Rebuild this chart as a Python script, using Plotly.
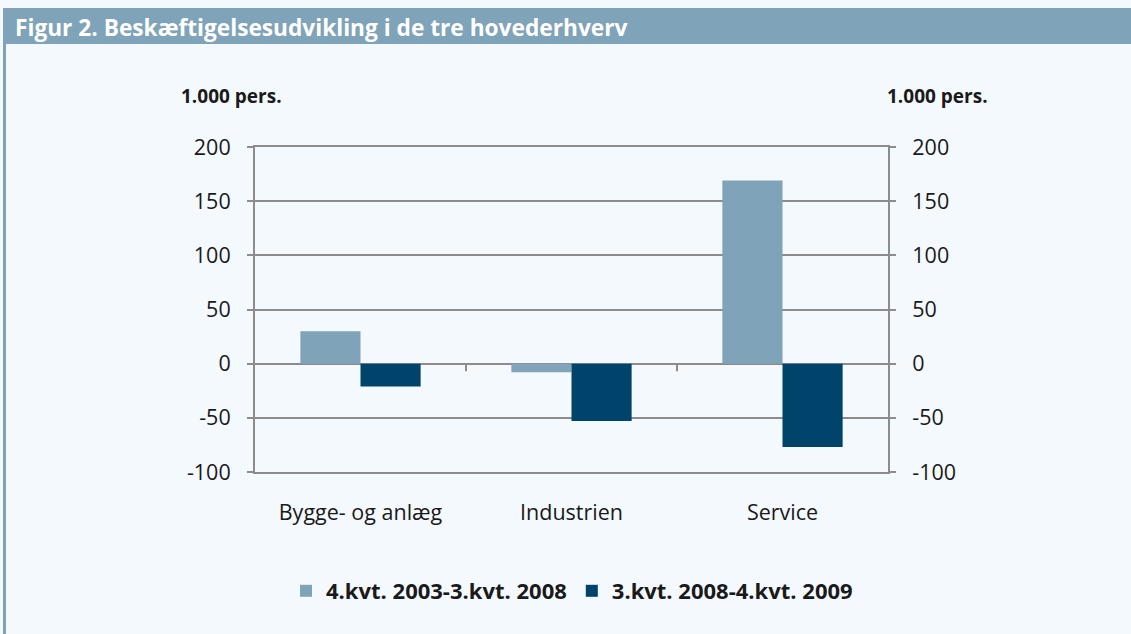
import plotly.graph_objects as go

categories = ["Bygge- og anlæg", "Industrien", "Service"]
series1_name = "4.kvt. 2003-3.kvt. 2008"
series1 = [30, -8, 169]
series2_name = "3.kvt. 2008-4.kvt. 2009"
series2 = [-21, -53, -77]
y_ticks = [200, 150, 100, 50, 0, -50, -100]
y_tick_labels = ["200", "150", "100", "50", "0", "-50", "-100"]

W, H = 1131, 634
L, R, T, B = 255, 888, 147, 472

def px(x):
    return (x - L) / (R - L)

def py(y):
    return (B - y) / (B - T)

bar_color1 = "#7fa3b8"
bar_color2 = "#00446b"
grid = "#8c8c8c"
bg = "#f4f9fd"
font_fam = "'Open Sans', sans-serif"

fig = go.Figure()
fig.add_trace(go.Bar(x=categories, y=series1, name=series1_name,
                     marker=dict(color=bar_color1, line=dict(width=0))))
fig.add_trace(go.Bar(x=categories, y=series2, name=series2_name,
                     marker=dict(color=bar_color2, line=dict(width=0))))
# invisible trace to carry right axis
fig.add_trace(go.Bar(x=categories, y=series1, yaxis="y2", showlegend=False,
                     opacity=0, hoverinfo="skip"))

axis_common = dict(range=[-100, 200], tickvals=y_ticks, ticktext=y_tick_labels,
                   ticks="outside", ticklen=6,
                   tickcolor=grid, tickwidth=1.5, showline=True, linecolor=grid,
                   linewidth=2, tickfont=dict(size=21.5, color="#1a1a1a", family=font_fam),
                   fixedrange=True, ticklabelstandoff=12)

fig.update_layout(
    width=W, height=H,
    margin=dict(l=L, r=W - R, t=T, b=H - B),
    paper_bgcolor=bg, plot_bgcolor=bg,
    barmode="group", bargap=0.43, bargroupgap=0,
    font=dict(family=font_fam, color="#1a1a1a"),
    xaxis=dict(showline=True, mirror=True, linecolor=grid, linewidth=1.5,
               showgrid=False, ticks="",
               tickfont=dict(size=21.5, color="#1a1a1a", family=font_fam),
               ticklabelstandoff=20, fixedrange=True),
    yaxis=dict(**axis_common, side="left", showgrid=True, gridcolor=grid, gridwidth=1.5,
               zeroline=True, zerolinecolor=grid, zerolinewidth=2),
    yaxis2=dict(**axis_common, side="right", overlaying="y", showgrid=False, zeroline=False),
    legend=dict(orientation="h", x=px(572), xanchor="center", y=py(591), yanchor="middle",
                font=dict(size=22, family=font_fam, color="#1a1a1a", weight="bold"),
                bgcolor="rgba(0,0,0,0)", itemwidth=30, traceorder="normal"),
    showlegend=True,
)

shapes = [
    dict(type="rect", xref="paper", yref="paper", x0=px(3), x1=px(W + 5), y0=py(44), y1=py(8),
         fillcolor=bar_color1, line=dict(width=0), layer="below"),
    dict(type="rect", xref="paper", yref="paper", x0=px(3), x1=px(6), y0=py(H + 5), y1=py(44),
         fillcolor=bar_color1, line=dict(width=0), layer="below"),
]
# category boundary ticks on the zero line
for i in range(1, len(categories)):
    shapes.append(dict(type="line", xref="x", yref="y", x0=i - 0.5, x1=i - 0.5, y0=0, y1=-7,
                       line=dict(color=grid, width=2)))
fig.update_layout(shapes=shapes)

fig.add_annotation(xref="paper", yref="paper", x=px(13), y=py(27), xanchor="left", yanchor="middle",
                   text="<b>Figur 2. Beskæftigelsesudvikling i de tre hovederhverv</b>", showarrow=False,
                   font=dict(size=22.7, color="white", family=font_fam))
fig.add_annotation(xref="paper", yref="paper", x=px(179), y=py(96), xanchor="left", yanchor="middle",
                   text="<b>1.000 pers.</b>", showarrow=False, font=dict(size=19, family=font_fam))
fig.add_annotation(xref="paper", yref="paper", x=px(885), y=py(96), xanchor="left", yanchor="middle",
                   text="<b>1.000 pers.</b>", showarrow=False, font=dict(size=19, family=font_fam))

fig.write_html("out.html", config={"displayModeBar": False},
               post_script="document.body.style.margin='0';document.body.style.padding='0';")
